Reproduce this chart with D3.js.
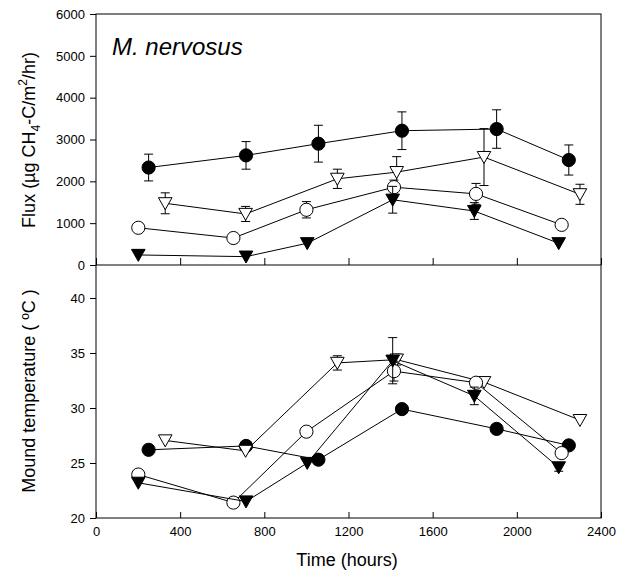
<!DOCTYPE html>
<html>
<head>
<meta charset="utf-8">
<script src="https://cdn.jsdelivr.net/npm/d3@7"></script>
<style>
  html, body { margin: 0; padding: 0; background: #fff; }
  svg { display: block; font-family: "Liberation Sans", Arial, sans-serif; }
</style>
</head>
<body>
<svg id="chart" width="617" height="577"></svg>
<script>
// ---------- DATA ----------
const xTicks = [0, 400, 800, 1200, 1600, 2000, 2400];
const fluxTicks = [0, 1000, 2000, 3000, 4000, 5000, 6000];
const tempTicks = [20, 25, 30, 35, 40];

// filled circles
const fcTime = [250, 713, 1057, 1454, 1904, 2247];
const fcFlux = [2330, 2620, 2900, 3210, 3250, 2510];
const fcFluxErr = [320, 330, 440, 450, 460, 360];
const fcTemp = [26.2, 26.55, 25.3, 29.9, 28.1, 26.6];
const fcTempErr = [0, 0, 0, 0, 0, 0];

// open triangles
const otTime = [329, 711, 1147, 1429, 1844, 2300];
const otFlux = [1475, 1220, 2060, 2220, 2580, 1690];
const otFluxErr = [250, 180, 230, 370, 680, 240];
const otTemp = [27.05, 26.1, 34.1, 34.4, 32.35, 28.9];
const otTempErr = [0, 0, 0.65, 0.5, 0, 0];

// open circles
const ocTime = [201, 653, 1000, 1416, 1806, 2213];
const ocFlux = [890, 645, 1320, 1860, 1700, 960];
const ocFluxErr = [0, 0, 195, 170, 250, 0];
const ocTemp = [23.95, 21.4, 27.85, 33.35, 32.3, 25.9];
const ocTempErr = [0, 0, 0, 0.9, 0, 0];

// filled triangles
const ftTime = [201, 713, 1004, 1410, 1798, 2199];
const ftFlux = [240, 200, 520, 1560, 1290, 520];
const ftFluxErr = [0, 0, 0, 320, 200, 0];
const ftTemp = [23.2, 21.5, 25.0, 34.3, 31.1, 24.6];
const ftTempErr = [0, 0, 0, 2.1, 0.8, 0.35];

const series = [
  { shape: "circle", fill: "#000", time: fcTime, flux: fcFlux, fluxErr: fcFluxErr, temp: fcTemp, tempErr: fcTempErr },
  { shape: "triangle", fill: "#fff", time: otTime, flux: otFlux, fluxErr: otFluxErr, temp: otTemp, tempErr: otTempErr },
  { shape: "circle", fill: "#fff", time: ocTime, flux: ocFlux, fluxErr: ocFluxErr, temp: ocTemp, tempErr: ocTempErr },
  { shape: "triangle", fill: "#000", time: ftTime, flux: ftFlux, fluxErr: ftFluxErr, temp: ftTemp, tempErr: ftTempErr }
];

// ---------- LAYOUT ----------
const L = 96, R = 601, T1 = 14, B1 = 265, B2 = 518;
const svg = d3.select("#chart");

const x = d3.scaleLinear().domain([0, 2400]).range([L, R]);
const yFlux = d3.scaleLinear().domain([0, 6000]).range([B1, T1]);
const yTemp = d3.scaleLinear().domain([20, 43]).range([B2, B1]);

// frames
svg.append("rect").attr("x", L).attr("y", T1).attr("width", R - L).attr("height", B2 - T1)
  .attr("fill", "none").attr("stroke", "#000").attr("stroke-width", 1);
svg.append("line").attr("x1", L).attr("x2", R).attr("y1", B1).attr("y2", B1)
  .attr("stroke", "#000").attr("stroke-width", 1);

// y axes (ticks outward)
function yAxis(scale, ticks) {
  const g = svg.append("g").attr("transform", `translate(${L},0)`)
    .call(d3.axisLeft(scale).tickValues(ticks).tickSize(6).tickPadding(5).tickFormat(d3.format("d")));
  g.select(".domain").remove();
  g.selectAll("text").attr("font-size", 13).attr("font-family", "Liberation Sans, Arial, sans-serif").attr("fill", "#000");
  g.selectAll("line").attr("stroke", "#000");
}
yAxis(yFlux, fluxTicks);
yAxis(yTemp, tempTicks);

// x axes: ticks inward
function xTicksInward(yPos, len) {
  const g = svg.append("g").attr("transform", `translate(0,${yPos})`)
    .call(d3.axisTop(x).tickValues(xTicks).tickSize(len).tickFormat(""));
  g.select(".domain").remove();
  g.selectAll("line").attr("stroke", "#000");
}
xTicksInward(B1, 7);
xTicksInward(B2, 6);

// x tick labels
const gx = svg.append("g").attr("transform", `translate(0,${B2})`)
  .call(d3.axisBottom(x).tickValues(xTicks).tickSize(0).tickPadding(9).tickFormat(d3.format("d")));
gx.select(".domain").remove();
gx.selectAll("text").attr("font-size", 13).attr("font-family", "Liberation Sans, Arial, sans-serif").attr("fill", "#000");

// ---------- MARKS ----------
const triPath = "M-6.8,-5.6L6.8,-5.6L0,6.4Z";

function drawPanel(valKey, errKey, y) {
  series.forEach(s => {
    const pts = s.time.map((t, i) => ({ t, v: s[valKey][i], e: s[errKey][i] }));
    const g = svg.append("g");
    g.append("path").datum(pts)
      .attr("d", d3.line().x(d => x(d.t)).y(d => y(d.v)))
      .attr("fill", "none").attr("stroke", "#000").attr("stroke-width", 1);
    const eb = g.selectAll(".eb").data(pts.filter(d => d.e > 0)).enter().append("g");
    eb.append("line").attr("x1", d => x(d.t)).attr("x2", d => x(d.t))
      .attr("y1", d => y(d.v - d.e)).attr("y2", d => y(d.v + d.e))
      .attr("stroke", "#000").attr("stroke-width", 1);
    [1, -1].forEach(sg => {
      eb.append("line").attr("x1", d => x(d.t) - 4.5).attr("x2", d => x(d.t) + 4.5)
        .attr("y1", d => y(d.v + sg * d.e)).attr("y2", d => y(d.v + sg * d.e))
        .attr("stroke", "#000").attr("stroke-width", 1);
    });
    if (s.shape === "circle") {
      g.selectAll(".m").data(pts).enter().append("circle")
        .attr("cx", d => x(d.t)).attr("cy", d => y(d.v)).attr("r", 6.6)
        .attr("fill", s.fill).attr("stroke", "#000").attr("stroke-width", 1);
    } else {
      g.selectAll(".m").data(pts).enter().append("path")
        .attr("d", triPath)
        .attr("transform", d => `translate(${x(d.t)},${y(d.v)})`)
        .attr("fill", s.fill).attr("stroke", "#000").attr("stroke-width", 1);
    }
  });
}
drawPanel("flux", "fluxErr", yFlux);
drawPanel("temp", "tempErr", yTemp);

// ---------- TEXT ----------
svg.append("text").attr("x", 112).attr("y", 55)
  .attr("font-size", 24).attr("font-style", "italic").attr("fill", "#000")
  .text("M. nervosus");

const fl = svg.append("text").attr("transform", "translate(35,140) rotate(-90)")
  .attr("text-anchor", "middle").attr("font-size", 18).attr("fill", "#000");
fl.append("tspan").text("Flux (µg CH");
fl.append("tspan").attr("font-size", 12).attr("dy", 5).text("4");
fl.append("tspan").attr("dy", -5).text("-C/m");
fl.append("tspan").attr("font-size", 12).attr("dy", -8).text("2");
fl.append("tspan").attr("dy", 8).text("/hr)");

svg.append("text").attr("transform", "translate(35,391) rotate(-90)")
  .attr("text-anchor", "middle").attr("font-size", 18).attr("fill", "#000")
  .text("Mound temperature ( ºC )");

svg.append("text").attr("x", 347).attr("y", 566)
  .attr("text-anchor", "middle").attr("font-size", 18).attr("fill", "#000")
  .text("Time (hours)");
</script>
</body>
</html>
